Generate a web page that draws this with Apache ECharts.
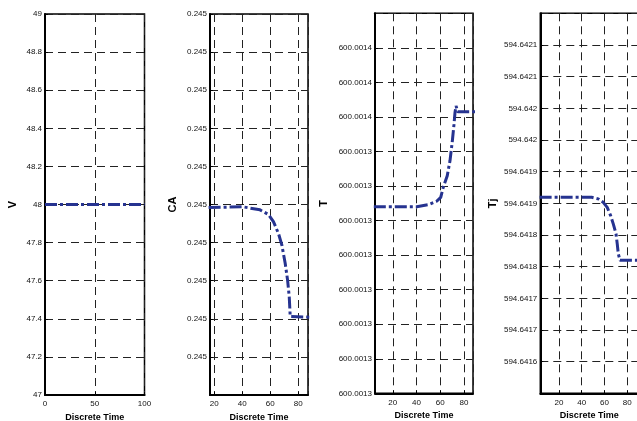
<!DOCTYPE html>
<html>
<head>
<meta charset="utf-8">
<script src="https://cdn.jsdelivr.net/npm/echarts@6/dist/echarts.min.js"></script>
<style>
html,body{margin:0;padding:0;background:#fff;}
#chart{width:637px;height:421px;}
</style>
</head>
<body>
<div id="chart"></div>
<script>
// ---- data ----
const vTime = [0, 20, 40, 60, 80, 100];
const vValues = [48, 48, 48, 48, 48, 48];

const caTime = [16, 40.3, 52.7, 58.7, 62.3, 65.9, 68.3, 70.7, 72.4, 73.6, 74.3, 75.5, 90];
const caValues = [0.24500492, 0.24500494, 0.24500486, 0.24500474, 0.24500455, 0.24500424,
  0.24500394, 0.24500346, 0.24500302, 0.24500258, 0.24500206, 0.24500204, 0.24500204];

const tTime = [4, 40.2, 50, 57, 60.4, 62.5, 65.9, 68.2, 70.2, 71.6, 72.4, 73.3, 74.7, 78, 90];
const tValues = [600.0013416, 600.0013416, 600.00134184, 600.00134224, 600.00134268, 600.00134384,
  600.0013452, 600.00134692, 600.00134924, 600.00135116, 600.00135248, 600.00135328,
  600.0013526, 600.0013526, 600.0013526];

const tjTime = [3, 48.7, 54.5, 58.9, 62.4, 65.4, 67.7, 70.1, 71.2, 72.1, 73.6, 92];
const tjValues = [594.6418595, 594.6418595, 594.641857, 594.6418515, 594.6418435, 594.6418305,
  594.6418175, 594.641802, 594.641786, 594.6417705, 594.64176, 594.64176];

// tick labels (bottom to top)
const vTickLabels = ['47', '47.2', '47.4', '47.6', '47.8', '48', '48.2', '48.4', '48.6', '48.8', '49'];
const caTickLabels = ['0.245', '0.245', '0.245', '0.245', '0.245', '0.245', '0.245', '0.245', '0.245', '0.245', '0.245'];
const tTickLabels = ['600.0013', '600.0013', '600.0013', '600.0013', '600.0013', '600.0013', '600.0013',
  '600.0013', '600.0014', '600.0014', '600.0014', ''];
const tjTickLabels = ['', '594.6416', '594.6417', '594.6417', '594.6418', '594.6418', '594.6419', '594.6419',
  '594.642', '594.642', '594.6421', '594.6421', ''];

// y-axis scale definitions
const vAxis = {min: 47, max: 49, interval: 0.2};
const caAxis = {min: 0.245000, max: 0.245010, interval: 0.000001};
const tAxis = {min: 600.00132, max: 600.001364, interval: 0.000004};
const tjAxis = {min: 594.64155, max: 594.64215, interval: 0.00005};

// ---- styling ----
const FONT = 'Liberation Sans, Arial, Helvetica, sans-serif';
const LINE_COLOR = '#263390';
const gridBoxes = [
  {left: 45, top: 14, width: 99.5, height: 381},
  {left: 210, top: 14, width: 98, height: 381},
  {left: 375, top: 13.3, width: 98, height: 380},
  {left: 540.3, top: 13.3, width: 98, height: 380}
];

function lookup(labels, ax) {
  return function (v) {
    const i = Math.round((v - ax.min) / ax.interval);
    return labels[i] !== undefined ? labels[i] : '';
  };
}

function yAx(i, name, ax, labels, gap, showMin, showMax) {
  return {
    gridIndex: i, type: 'value', min: ax.min, max: ax.max, interval: ax.interval,
    name: name, nameLocation: 'middle', nameGap: gap, nameRotate: 90,
    nameTextStyle: {fontWeight: 'bold', fontSize: 11, color: '#000', fontFamily: FONT},
    axisLine: {show: true, lineStyle: {color: '#000', width: 2}},
    axisTick: {show: true, inside: true, length: 3, lineStyle: {color: '#000', width: 1}},
    axisLabel: {fontSize: 8, color: '#111', margin: 3, fontFamily: FONT,
      formatter: lookup(labels, ax), showMinLabel: showMin, showMaxLabel: showMax},
    splitLine: {show: true, lineStyle: {color: '#222', width: 1, type: [8, 5]}}
  };
}

function xAx(i, min, max, extra) {
  return Object.assign({
    gridIndex: i, type: 'value', min: min, max: max,
    name: 'Discrete Time', nameLocation: 'middle', nameGap: 16,
    nameTextStyle: {fontWeight: 'bold', fontSize: 9, color: '#000', fontFamily: FONT},
    axisLine: {show: true, lineStyle: {color: '#000', width: 2}},
    axisTick: {show: true, inside: true, length: 3, lineStyle: {color: '#000', width: 1}},
    axisLabel: {fontSize: 8, color: '#111', margin: 5, fontFamily: FONT},
    splitLine: {show: true, lineStyle: {color: '#222', width: 1, type: [8, 5]}}
  }, extra || {});
}

function series(i, xs, ys) {
  return {
    type: 'line', xAxisIndex: i, yAxisIndex: i, showSymbol: false, symbol: 'none',
    data: xs.map((x, k) => [x, ys[k]]), clip: true, animation: false,
    lineStyle: {color: LINE_COLOR, width: 3, type: [12, 3, 3, 3], cap: 'butt'}
  };
}

const option = {
  backgroundColor: '#fff',
  animation: false,
  grid: gridBoxes.map(g => Object.assign({show: true, borderColor: '#000', borderWidth: 1.5,
    backgroundColor: '#fff', containLabel: false, outerBoundsMode: 'none'}, g)),
  xAxis: [
    xAx(0, 0, 100, {interval: 50}),
    xAx(1, 17, 87, {splitNumber: 4, axisLabel: {fontSize: 8, color: '#111', margin: 5, fontFamily: FONT, showMinLabel: false, showMaxLabel: false}}),
    xAx(2, 5, 87.6, {splitNumber: 4, axisLabel: {fontSize: 8, color: '#111', margin: 5, fontFamily: FONT, showMinLabel: false, showMaxLabel: false}}),
    xAx(3, 3.6, 89.7, {splitNumber: 4, axisLabel: {fontSize: 8, color: '#111', margin: 5, fontFamily: FONT, showMinLabel: false, showMaxLabel: false}})
  ],
  yAxis: [
    yAx(0, 'V', vAxis, vTickLabels, 27, true, true),
    yAx(1, 'CA', caAxis, caTickLabels, 32, false, true),
    yAx(2, 'T', tAxis, tTickLabels, 46, true, false),
    yAx(3, 'Tj', tjAxis, tjTickLabels, 42, false, false)
  ],
  series: [
    series(0, vTime, vValues),
    series(1, caTime, caValues),
    series(2, tTime, tValues),
    series(3, tjTime, tjValues)
  ]
};

const chart = echarts.init(document.getElementById('chart'), null, {renderer: 'canvas'});
chart.setOption(option);
</script>
</body>
</html>
